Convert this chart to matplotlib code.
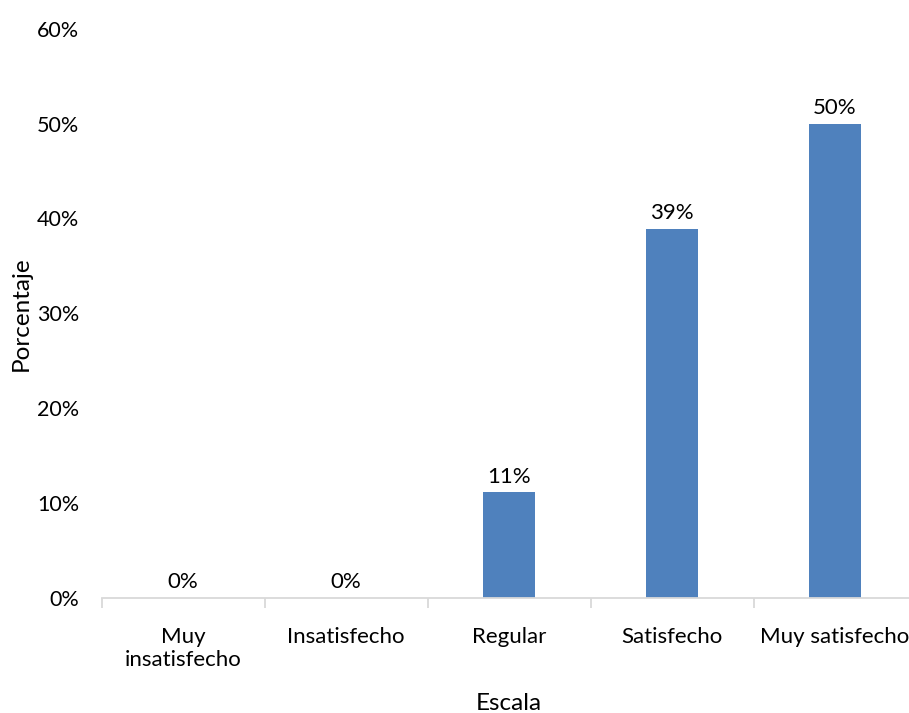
import matplotlib
matplotlib.use("Agg")
import matplotlib.pyplot as plt

categories = ["Muy\ninsatisfecho", "Insatisfecho", "Regular", "Satisfecho", "Muy satisfecho"]
percentages = [0.0, 0.0, 11.1, 38.9, 50.0]
y_ticks = [0, 10, 20, 30, 40, 50, 60]
y_tick_labels = ["0%", "10%", "20%", "30%", "40%", "50%", "60%"]

plt.rcParams["font.family"] = ["Lato", "DejaVu Sans"]

W, H = 909, 713
fig = plt.figure(figsize=(W / 100, H / 100), dpi=100)
left_px, right_px, bottom_px, top_px = 101.5, 916.5, 597.5, 29
ax = fig.add_axes([left_px / W, (H - bottom_px) / H,
                   (right_px - left_px) / W, (bottom_px - top_px) / H])

x = list(range(len(categories)))
bars = ax.bar(x, percentages, width=0.313, color="#4F81BD", zorder=2)

for xi, v in zip(x, percentages):
    ax.annotate(f"{v:.0f}%", xy=(xi, v), xytext=(0, 4), textcoords="offset points",
                ha="center", va="bottom", fontsize=16, color="#000000")

ax.set_xlim(-0.5, len(categories) - 0.5)
ax.set_ylim(0, 60)
ax.set_yticks(y_ticks)
ax.set_yticklabels(y_tick_labels, fontsize=15.5)
ax.tick_params(axis="y", length=0, pad=16)

ax.set_xticks(x)
ax.set_xticklabels(categories, fontsize=16, linespacing=1.2)
ax.set_xticks([i - 0.5 for i in range(len(categories) + 1)], minor=True)
ax.tick_params(axis="x", which="major", length=0, pad=21)
ax.tick_params(axis="x", which="minor", length=7, width=1.3, color="#D9D9D9")

for side in ("top", "right", "left"):
    ax.spines[side].set_visible(False)
ax.spines["bottom"].set_color("#D9D9D9")
ax.spines["bottom"].set_linewidth(1.3)

ax.set_ylabel("Porcentaje", fontsize=17.5)
ax.set_xlabel("Escala", fontsize=17.5)
ax.yaxis.set_label_coords(-80 / (right_px - left_px), 0.5)
ax.xaxis.set_label_coords((509 - left_px) / (right_px - left_px), -(703 - bottom_px) / (bottom_px - top_px))
ax.xaxis.label.set_va("center")
ax.yaxis.label.set_va("center")

fig.savefig("out.png", dpi=100)
